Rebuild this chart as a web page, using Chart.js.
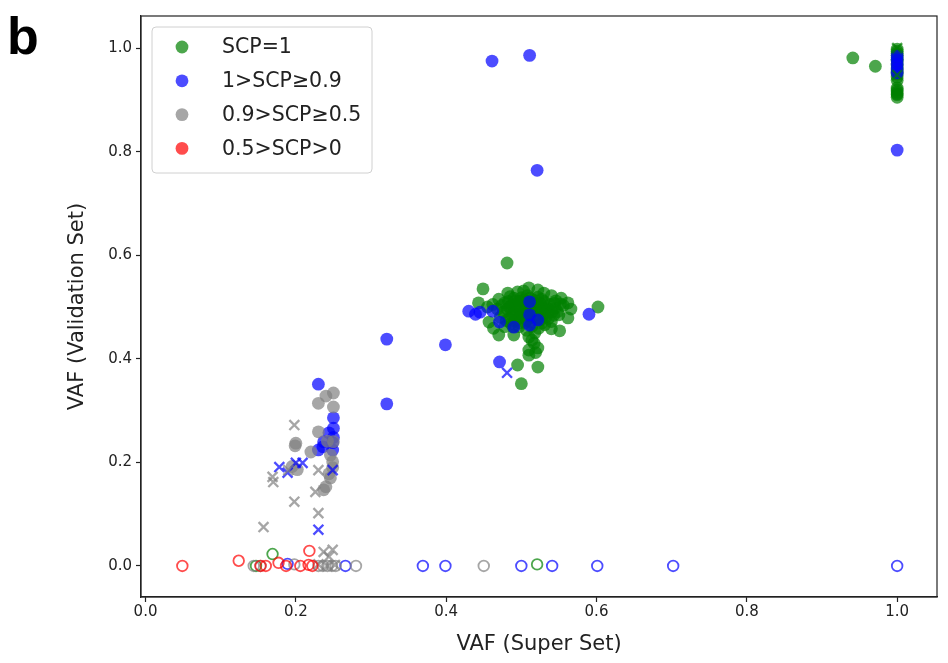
<!DOCTYPE html>
<html>
<head>
<meta charset="utf-8">
<script src="https://cdn.jsdelivr.net/npm/chart.js@4.4.0/dist/chart.umd.min.js"></script>
<style>
  body { margin: 0; background: #fff; }
  canvas { display: block; }
</style>
</head>
<body>
<canvas id="graph" width="948" height="663"></canvas>
<script>
// tick positions on both axes
var xTicks = [0, 0.2, 0.4, 0.6, 0.8, 1.0];
var yTicks = [0, 0.2, 0.4, 0.6, 0.8, 1.0];

var groupNames = ["SCP=1", "1>SCP\u22650.9", "0.9>SCP\u22650.5", "0.5>SCP>0"];

// SCP = 1 (green)
var scp1Dots = [
  [0.941,0.981],[0.971,0.965],
  [1.0,0.998],[1.0,0.994],[1.0,0.990],[1.0,0.986],[1.0,0.982],[1.0,0.978],[1.0,0.975],[1.0,0.970],
  [1.0,0.966],[1.0,0.962],[1.0,0.958],[1.0,0.954],[1.0,0.950],[1.0,0.944],[1.0,0.938],
  [1.0,0.923],[1.0,0.919],[1.0,0.915],[1.0,0.912],[1.0,0.910],[1.0,0.905],
  [0.481,0.585],[0.449,0.535],[0.602,0.500],[0.551,0.454],[0.562,0.508],[0.562,0.479],[0.553,0.517],
  [0.550,0.485],[0.566,0.496],
  [0.510,0.442],[0.517,0.430],[0.510,0.417],[0.522,0.421],[0.510,0.407],[0.495,0.388],[0.522,0.384],
  [0.500,0.352],[0.514,0.436],[0.519,0.412],
  [0.470,0.446],[0.490,0.446],[0.443,0.508],[0.457,0.471],[0.463,0.459],[0.455,0.500],[0.462,0.505],
  [0.510,0.537],[0.522,0.533],[0.482,0.527],[0.495,0.529],[0.503,0.531],[0.530,0.527],[0.540,0.522],
  [0.470,0.515],[0.478,0.508],[0.485,0.520],[0.492,0.512],[0.500,0.518],[0.508,0.522],[0.515,0.514],
  [0.522,0.519],[0.530,0.511],[0.538,0.505],[0.545,0.498],
  [0.468,0.496],[0.476,0.490],[0.484,0.500],[0.491,0.494],[0.498,0.503],[0.505,0.497],[0.513,0.501],
  [0.520,0.493],[0.528,0.499],[0.536,0.490],[0.543,0.484],
  [0.472,0.480],[0.480,0.474],[0.488,0.483],[0.495,0.477],[0.503,0.485],[0.510,0.478],[0.518,0.483],
  [0.526,0.476],[0.533,0.481],[0.540,0.472],
  [0.478,0.462],[0.486,0.468],[0.497,0.462],[0.505,0.470],[0.514,0.463],[0.523,0.459],[0.531,0.466],
  [0.540,0.458],
  [0.500,0.510],[0.488,0.505],[0.525,0.507],[0.515,0.490],[0.493,0.486],[0.532,0.494],[0.507,0.455],
  [0.518,0.450],[0.546,0.512],[0.556,0.503],
  [0.474,0.503],[0.481,0.496],[0.487,0.491],[0.494,0.499],[0.499,0.492],[0.503,0.506],[0.508,0.489],
  [0.512,0.495],[0.517,0.507],[0.521,0.500],[0.526,0.491],[0.531,0.503],[0.535,0.497],[0.541,0.491],
  [0.483,0.511],[0.490,0.517],[0.497,0.511],[0.504,0.514],[0.511,0.517],[0.519,0.512],[0.527,0.515],
  [0.484,0.478],[0.491,0.473],[0.499,0.480],[0.506,0.476],[0.512,0.471],[0.521,0.479],[0.529,0.485],
  [0.536,0.478],[0.498,0.469],[0.489,0.462],[0.527,0.469],[0.548,0.491],[0.552,0.506],[0.544,0.507]
];
var scp1Crosses = [[1.0,1.0],[1.0,0.948]];
var scp1Rings = [[0.147,0.0],[0.169,0.023],[0.521,0.003]];

// 1 > SCP >= 0.9 (blue)
var scp09Dots = [
  [0.461,0.975],[0.511,0.986],[0.521,0.764],[1.0,0.803],
  [1.0,0.985],[1.0,0.977],[1.0,0.969],[1.0,0.960],[1.0,0.952],
  [0.321,0.438],[0.321,0.313],[0.399,0.427],[0.590,0.486],
  [0.430,0.492],[0.439,0.486],[0.445,0.490],[0.462,0.492],[0.471,0.471],[0.490,0.461],
  [0.511,0.510],[0.511,0.485],[0.511,0.465],[0.522,0.475],[0.471,0.394],
  [0.230,0.351],[0.250,0.286],[0.250,0.266],[0.244,0.257],[0.237,0.240],[0.249,0.238],
  [0.249,0.224],[0.230,0.224],[0.236,0.230],[0.250,0.248]
];
var scp09Crosses = [[0.178,0.191],[0.189,0.180],[0.200,0.199],[0.209,0.199],[0.249,0.185],[0.230,0.070],[0.481,0.373]];
var scp09Rings = [[0.189,0.004],[0.266,0.0],[0.369,0.0],[0.399,0.0],[0.500,0.0],[0.541,0.0],[0.601,0.0],[0.702,0.0],[1.0,0.0]];

// 0.9 > SCP >= 0.5 (gray)
var scp05Dots = [
  [0.250,0.334],[0.240,0.328],[0.230,0.314],[0.250,0.307],[0.230,0.259],[0.200,0.237],[0.199,0.232],
  [0.220,0.220],[0.242,0.241],[0.250,0.240],[0.246,0.214],[0.249,0.201],[0.246,0.170],[0.240,0.153],
  [0.244,0.178],[0.202,0.186],[0.195,0.192],[0.249,0.190],[0.237,0.147]
];
var scp05Crosses = [
  [0.198,0.272],[0.169,0.172],[0.170,0.162],[0.230,0.185],[0.226,0.143],[0.198,0.124],[0.230,0.102],
  [0.157,0.075],[0.249,0.031],[0.237,0.027],[0.230,0.003],[0.242,0.0],[0.252,0.002],[0.244,0.018],[0.190,0.185]
];
var scp05Rings = [[0.144,0.0],[0.153,0.0],[0.198,0.003],[0.230,0.0],[0.236,0.0],[0.242,0.0],[0.248,0.0],[0.253,0.0],[0.280,0.0],[0.450,0.0]];

// 0.5 > SCP > 0 (red)
var scp0Dots = [];
var scp0Crosses = [];
var scp0Rings = [[0.049,0.0],[0.124,0.010],[0.153,0.0],[0.160,0.0],[0.177,0.006],[0.187,0.0],[0.206,0.0],[0.217,0.002],[0.218,0.029],[0.222,0.0]];

var colors = ["rgba(0,128,0,0.7)", "rgba(0,0,255,0.7)", "rgba(128,128,128,0.7)", "rgba(255,0,0,0.7)"];

function pts(list) {
  return list.map(function (p) { return {x: p[0], y: p[1]}; });
}

var dots = [scp1Dots, scp09Dots, scp05Dots, scp0Dots];
var crosses = [scp1Crosses, scp09Crosses, scp05Crosses, scp0Crosses];
var rings = [scp1Rings, scp09Rings, scp05Rings, scp0Rings];

// datasets in the order they get painted, bottom first
var sets = [];
for (var i = 0; i < 4; i++) {
  sets.push({ label: groupNames[i], legend: true, data: pts(dots[i]), pointStyle: "circle",
    pointRadius: 6.4, pointBorderWidth: 0, backgroundColor: colors[i], borderColor: colors[i] });
}
for (var i = 0; i < 4; i++) {
  sets.push({ label: "", data: pts(crosses[i]), pointStyle: "crossRot",
    pointRadius: 7, pointBorderWidth: 2.3, backgroundColor: colors[i], borderColor: colors[i] });
}
for (var i = 0; i < 4; i++) {
  sets.push({ label: "", data: pts(rings[i]), pointStyle: "circle",
    pointRadius: 5.3, pointBorderWidth: 1.8, backgroundColor: "rgba(0,0,0,0)", borderColor: colors[i] });
}
sets.forEach(function (d, k) { d.order = sets.length - k; d.showLine = false; });

var framePlugin = {
  id: "frame",
  afterDatasetsDraw: function (chart) {
    var a = chart.chartArea, ctx = chart.ctx;
    ctx.save();
    ctx.strokeStyle = "#222";
    ctx.lineWidth = 1.2;
    ctx.strokeRect(a.left, a.top, a.right - a.left, a.bottom - a.top);

    // legend box in the upper left corner
    var bx = 152, by = 27, bw = 220, bh = 146, r = 4;
    ctx.beginPath();
    ctx.moveTo(bx + r, by);
    ctx.arcTo(bx + bw, by, bx + bw, by + bh, r);
    ctx.arcTo(bx + bw, by + bh, bx, by + bh, r);
    ctx.arcTo(bx, by + bh, bx, by, r);
    ctx.arcTo(bx, by, bx + bw, by, r);
    ctx.closePath();
    ctx.fillStyle = "rgba(255,255,255,0.8)";
    ctx.fill();
    ctx.strokeStyle = "#d0d0d0";
    ctx.lineWidth = 1;
    ctx.stroke();

    ctx.font = '20.5px "DejaVu Sans"';
    ctx.textBaseline = "middle";
    var rows = chart.data.datasets.filter(function (d) { return d.legend; });
    rows.forEach(function (d, j) {
      var yy = 47 + j * 33.8;
      ctx.beginPath();
      ctx.arc(182, yy, 6.4, 0, Math.PI * 2);
      ctx.fillStyle = d.backgroundColor;
      ctx.fill();
      ctx.fillStyle = "#222";
      ctx.fillText(d.label, 222, yy + 1);
    });

    // panel letter
    ctx.fillStyle = "#000";
    ctx.textBaseline = "alphabetic";
    ctx.font = 'bold 52px "Liberation Sans"';
    ctx.fillText("b", 7, 54);
    ctx.restore();
  }
};

var tickFont = { family: "DejaVu Sans", size: 15 };
var titleFont = { family: "DejaVu Sans", size: 21 };

new Chart("graph", {
  type: "scatter",
  data: { datasets: sets },
  options: {
    responsive: false,
    animation: false,
    events: [],
    layout: { padding: { top: 16, right: 11, left: 0, bottom: 0 } },
    plugins: { legend: { display: false }, tooltip: { enabled: false } },
    scales: {
      x: {
        type: "linear", min: -0.006, max: 1.053,
        afterFit: function (s) { s.height = 66; },
        afterBuildTicks: function (s) { s.ticks = xTicks.map(function (v) { return {value: v}; }); },
        ticks: { callback: function (v) { return v.toFixed(1); }, font: tickFont, color: "#222", padding: 1, maxRotation: 0, autoSkip: false },
        grid: { drawOnChartArea: false, tickLength: 5, tickColor: "#222", tickWidth: 1.2 },
        border: { color: "#222", width: 1.2 },
        title: { display: true, text: "VAF (Super Set)", font: titleFont, color: "#222", padding: { top: 0, bottom: 5.4 } }
      },
      y: {
        type: "linear", min: -0.06, max: 1.062,
        afterFit: function (s) { s.width = 141; },
        afterBuildTicks: function (s) { s.ticks = yTicks.map(function (v) { return {value: v}; }); },
        ticks: { callback: function (v) { return v.toFixed(1); }, font: tickFont, color: "#222", padding: 4, autoSkip: false },
        grid: { drawOnChartArea: false, tickLength: 5, tickColor: "#222", tickWidth: 1.2 },
        border: { color: "#222", width: 1.2 },
        title: { display: true, text: "VAF (Validation Set)", font: titleFont, color: "#222", padding: { top: 65.4, bottom: 0 } }
      }
    }
  },
  plugins: [framePlugin]
});
</script>
</body>
</html>
